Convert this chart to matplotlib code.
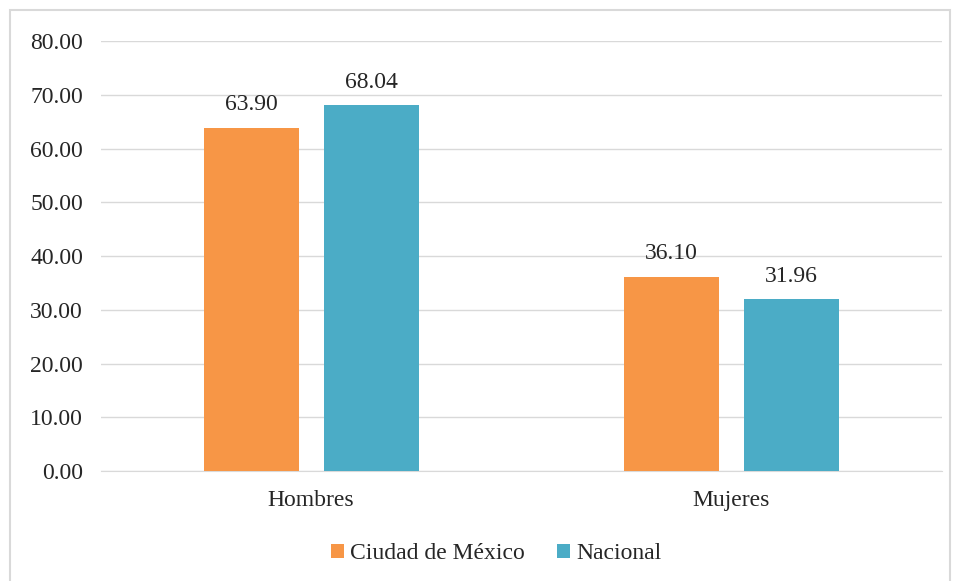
import numpy as np
import matplotlib.pyplot as plt
from matplotlib.patches import Rectangle

categories = ["Hombres", "Mujeres"]
series_names = ["Ciudad de México", "Nacional"]
cdmx = [63.90, 36.10]
nacional = [68.04, 31.96]
colors = ["#F79646", "#4BACC6"]

plt.rcParams['font.family'] = ['Liberation Serif', 'DejaVu Serif']

fig = plt.figure(figsize=(9.56, 5.81), dpi=100)
ax = fig.add_axes([0.1056, 0.1893, 0.8794, 0.7401])

# outer chart border
fig.patches.append(Rectangle((10 / 956, -0.05), 940 / 956, 1 - 10 / 581 + 0.05,
                             transform=fig.transFigure, fill=False,
                             edgecolor="#D9D9D9", linewidth=1.5))

x = np.arange(len(categories))
width = 0.226
offset = 0.143

for vals, name, col, off in zip([cdmx, nacional], series_names, colors, [-offset, offset]):
    bars = ax.bar(x + off, vals, width, color=col, label=name, zorder=3)
    for b, v in zip(bars, vals):
        ax.annotate(f"{v:.2f}", (b.get_x() + b.get_width() / 2, v),
                    xytext=(0, 9), textcoords="offset points",
                    ha="center", va="bottom", fontsize=17, color="#262626")

ax.set_xlim(-0.5, 1.5)
ax.set_ylim(0, 80)
ax.set_yticks(np.arange(0, 81, 10))
ax.set_yticklabels([f"{v:.2f}" for v in np.arange(0, 81, 10)])
ax.set_xticks(x)
ax.set_xticklabels(categories)
ax.grid(axis="y", color="#D9D9D9", linewidth=1, zorder=0)
for s in ["top", "right", "left"]:
    ax.spines[s].set_visible(False)
ax.spines["bottom"].set_color("#D9D9D9")
ax.tick_params(axis="both", length=0, labelsize=17, colors="#262626")
ax.tick_params(axis="y", pad=13)
ax.tick_params(axis="x", pad=14)

leg = ax.legend(loc="center", bbox_to_anchor=(0.47, -0.142 / 0.7401), ncol=2,
                frameon=False, fontsize=17, handlelength=0.55, handleheight=0.55,
                handletextpad=0.25, columnspacing=1.4, labelcolor="#262626")

fig.savefig("out.png", dpi=100)
